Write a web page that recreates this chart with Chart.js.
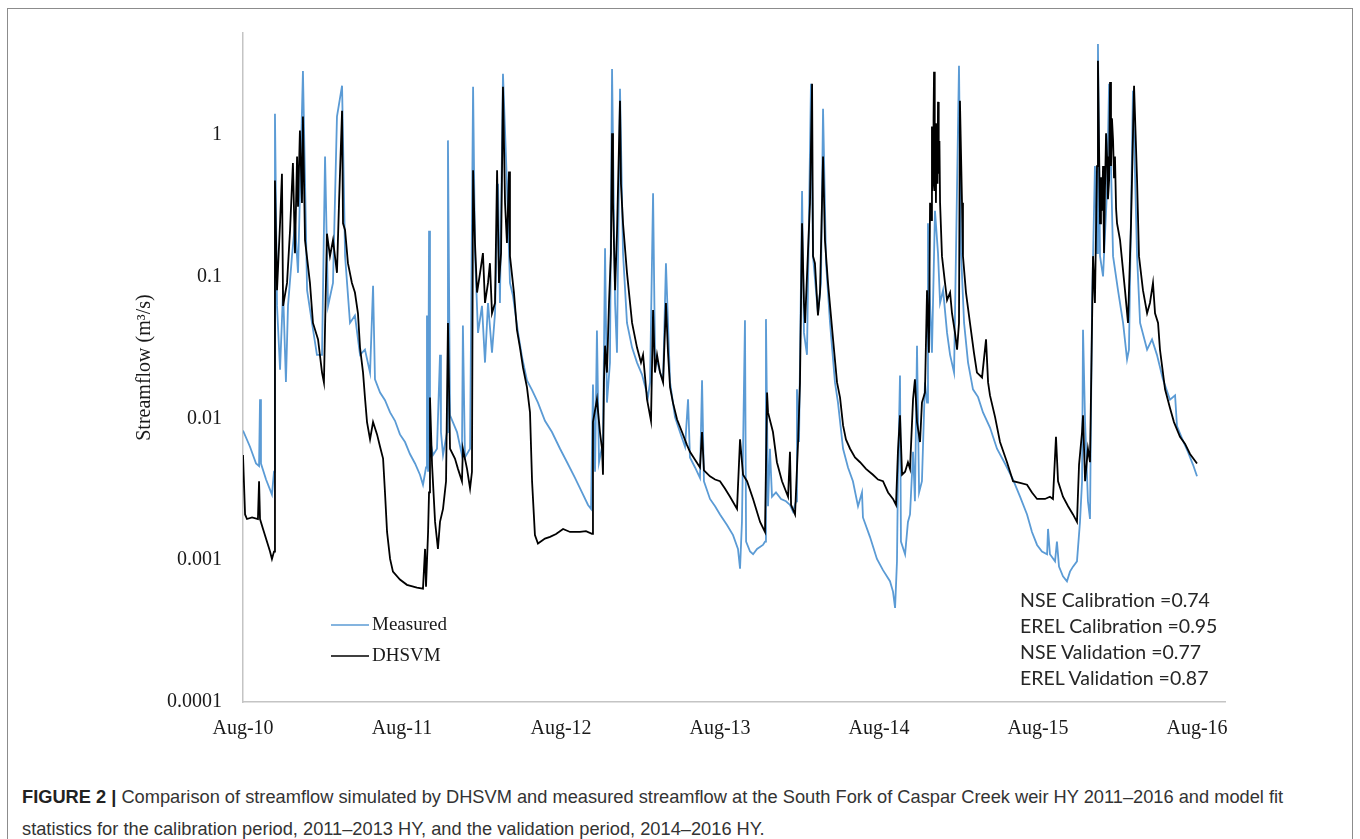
<!DOCTYPE html>
<html>
<head>
<meta charset="utf-8">
<script src="https://cdn.jsdelivr.net/npm/chart.js@4.4.1/dist/chart.umd.min.js"></script>
<style>
  html, body { margin: 0; padding: 0; background: #fff; }
  body { width: 1360px; height: 839px; position: relative; overflow: hidden; }
  #frame { position: absolute; left: 7px; top: 8px; width: 1344px; height: 900px; border: 1px solid #8c8c8c; }
  #chart { position: absolute; left: 0; top: 0; }
  #stats { position: absolute; left: 1020px; top: 587px; font-family: Lato, "Open Sans", sans-serif; font-size: 19.5px; line-height: 26px; color: #262626; white-space: nowrap; }
  #caption { position: absolute; left: 22px; top: 781px; font-family: "Liberation Sans", Arial, sans-serif; font-size: 18.25px; line-height: 32px; color: #333; white-space: nowrap; }
  #caption b { color: #222; }
</style>
</head>
<body>
<div id="frame"></div>
<canvas id="chart" width="1360" height="780"></canvas>
<div id="stats">
  NSE Calibration =0.74<br>
  EREL Calibration =0.95<br>
  NSE Validation =0.77<br>
  EREL Validation =0.87
</div>
<div id="caption">
  <b>FIGURE 2 |</b> Comparison of streamflow simulated by DHSVM and measured streamflow at the South Fork of Caspar Creek weir HY 2011–2016 and model fit<br>
  statistics for the calibration period, 2011–2013 HY, and the validation period, 2014–2016 HY.
</div>
<script>
// time in years after Aug 2010, flow in m3/s
const xTickLabels = ['Aug-10', 'Aug-11', 'Aug-12', 'Aug-13', 'Aug-14', 'Aug-15', 'Aug-16'];
const yTickValues = [0.0001, 0.001, 0.01, 0.1, 1];
const yTickLabels = ['0.0001', '0.001', '0.01', '0.1', '1'];

const measuredYears = [
  0,0.044,0.082,0.101,0.107,0.113,0.145,0.182,0.195,0.201,
  0.214,0.233,0.252,0.270,0.283,0.308,0.327,0.346,0.377,0.403,
  0.434,0.465,0.497,0.516,0.535,0.566,0.591,0.623,0.642,0.673,
  0.704,0.736,0.767,0.799,0.818,0.830,0.862,0.893,0.925,0.956,
  0.987,1.019,1.050,1.082,1.113,1.132,1.151,1.157,1.164,1.170,
  1.176,1.195,1.220,1.239,1.245,1.258,1.283,1.289,1.302,1.346,
  1.377,1.383,1.396,1.428,1.447,1.459,1.478,1.503,1.522,1.541,
  1.566,1.585,1.604,1.616,1.635,1.660,1.679,1.698,1.730,1.755,
  1.786,1.818,1.855,1.899,1.943,1.994,2.038,2.088,2.132,2.170,
  2.189,2.201,2.214,2.226,2.239,2.264,2.277,2.289,2.308,2.321,
  2.340,2.352,2.371,2.390,2.415,2.447,2.478,2.509,2.547,2.560,
  2.579,2.591,2.623,2.642,2.660,2.686,2.717,2.748,2.780,2.799,
  2.811,2.843,2.874,2.887,2.899,2.937,2.969,3.000,3.044,3.082,
  3.113,3.126,3.138,3.157,3.164,3.189,3.208,3.233,3.270,3.283,
  3.289,3.302,3.314,3.327,3.352,3.384,3.415,3.440,3.459,3.478,
  3.484,3.497,3.516,3.528,3.547,3.572,3.585,3.616,3.635,3.648,
  3.667,3.692,3.723,3.742,3.774,3.805,3.836,3.868,3.893,3.899,
  3.943,3.987,4.025,4.069,4.088,4.101,4.113,4.119,4.132,4.138,
  4.164,4.182,4.195,4.214,4.226,4.239,4.252,4.270,4.289,4.302,
  4.308,4.321,4.333,4.352,4.371,4.384,4.403,4.428,4.447,4.472,
  4.503,4.516,4.535,4.560,4.591,4.623,4.654,4.698,4.742,4.792,
  4.843,4.887,4.931,4.962,4.994,5.025,5.057,5.063,5.075,5.107,
  5.119,5.132,5.157,5.182,5.201,5.220,5.245,5.264,5.277,5.283,
  5.296,5.314,5.327,5.340,5.358,5.371,5.377,5.390,5.409,5.434,
  5.447,5.472,5.503,5.535,5.560,5.572,5.597,5.623,5.642,5.686,
  5.717,5.748,5.786,5.830,5.862,5.874,5.906,5.943,5.975,6.000
];
const measuredFlow = [
  0.0082,0.0063,0.0048,0.0046,0.0136,0.0048,0.0037,0.0029,0.0042,1.40,
  0.062,0.022,0.080,0.018,0.062,0.139,0.237,0.106,2.81,0.080,
  0.047,0.028,0.028,0.70,0.062,0.090,1.34,2.21,0.139,0.047,
  0.053,0.028,0.0305,0.021,0.086,0.0188,0.0152,0.0134,0.0110,0.0096,
  0.0077,0.0068,0.0056,0.0048,0.0040,0.0034,0.0045,0.053,0.0042,0.21,
  0.0071,0.0055,0.0061,0.028,0.0080,0.0055,0.0080,0.91,0.0105,0.0080,
  0.0055,0.045,0.0053,0.0061,2.17,0.146,0.040,0.062,0.0247,0.065,
  0.029,0.055,0.45,0.065,2.68,0.45,0.090,0.073,0.040,0.027,
  0.0185,0.0158,0.0129,0.0096,0.0080,0.0061,0.0049,0.0038,0.0030,0.00245,
  0.0023,0.0173,0.0042,0.0415,0.0049,0.0068,0.158,0.0129,0.0247,2.9,
  0.065,0.029,2.10,0.146,0.047,0.0315,0.0247,0.0204,0.0141,0.0179,
  0.385,0.029,0.021,0.0185,0.124,0.0179,0.0102,0.0080,0.0063,0.0136,
  0.0053,0.0045,0.0038,0.0185,0.0036,0.0027,0.0024,0.0021,0.00177,0.0015,
  0.0012,0.00087,0.00186,0.049,0.00135,0.00115,0.0011,0.0012,0.00128,0.00135,
  0.050,0.0024,0.0061,0.0028,0.0030,0.0027,0.0026,0.00245,0.0022,0.0026,
  0.016,0.0068,0.40,0.040,0.028,2.28,0.139,0.055,0.090,1.52,
  0.124,0.047,0.0179,0.0129,0.0061,0.0045,0.0036,0.0024,0.0030,0.0020,
  0.00146,0.00102,0.00085,0.00071,0.0006,0.00046,0.00098,0.0037,0.020,0.00135,
  0.0011,0.00186,0.0021,0.0058,0.0026,0.0325,0.0030,0.0036,0.0179,0.0129,
  0.237,0.065,0.029,0.29,0.146,0.065,0.080,0.040,0.028,0.021,
  3.05,0.146,0.047,0.0247,0.016,0.0141,0.0110,0.0086,0.0061,0.0048,
  0.0037,0.0028,0.0021,0.00158,0.00128,0.00115,0.0011,0.00166,0.0011,0.00098,
  0.00135,0.0009,0.00077,0.00071,0.00083,0.0009,0.00098,0.00186,0.0036,0.042,
  0.0094,0.0026,0.00195,0.065,0.60,0.146,4.35,0.139,0.10,0.40,
  2.28,0.139,0.080,0.047,0.026,0.0305,2.04,0.139,0.047,0.0305,
  0.036,0.028,0.0188,0.0135,0.0145,0.0088,0.0072,0.0058,0.0047,0.0039
];

const dhsvmYears = [
  0,0.013,0.025,0.057,0.094,0.101,0.107,0.126,0.151,0.170,
  0.182,0.195,0.201,0.214,0.233,0.245,0.252,0.277,0.296,0.314,
  0.327,0.340,0.346,0.358,0.371,0.377,0.390,0.421,0.440,0.472,
  0.497,0.509,0.528,0.547,0.566,0.591,0.604,0.623,0.629,0.642,
  0.660,0.685,0.704,0.723,0.736,0.755,0.767,0.780,0.799,0.818,
  0.843,0.862,0.881,0.893,0.906,0.925,0.943,0.987,1.031,1.094,
  1.132,1.145,1.151,1.164,1.170,1.176,1.189,1.208,1.226,1.239,
  1.258,1.277,1.289,1.302,1.333,1.352,1.377,1.383,1.409,1.428,
  1.440,1.447,1.459,1.472,1.491,1.509,1.522,1.541,1.553,1.566,
  1.585,1.598,1.610,1.623,1.635,1.648,1.660,1.673,1.679,1.704,
  1.723,1.742,1.761,1.786,1.805,1.818,1.836,1.855,1.899,1.931,
  1.969,2.013,2.057,2.119,2.157,2.195,2.201,2.226,2.245,2.258,
  2.264,2.270,2.277,2.289,2.302,2.314,2.321,2.327,2.340,2.352,
  2.371,2.377,2.390,2.415,2.447,2.478,2.503,2.516,2.541,2.566,
  2.579,2.591,2.604,2.623,2.642,2.660,2.673,2.686,2.704,2.730,
  2.761,2.792,2.811,2.843,2.874,2.887,2.899,2.937,2.969,3.000,
  3.031,3.063,3.107,3.126,3.145,3.170,3.208,3.252,3.283,3.296,
  3.302,3.333,3.358,3.390,3.428,3.440,3.447,3.472,3.491,3.503,
  3.516,3.528,3.535,3.553,3.566,3.579,3.585,3.597,3.616,3.629,
  3.648,3.660,3.679,3.711,3.736,3.755,3.774,3.792,3.818,3.849,
  3.881,3.918,3.962,3.994,4.025,4.057,4.088,4.107,4.119,4.132,
  4.145,4.164,4.182,4.195,4.214,4.226,4.239,4.258,4.270,4.289,
  4.302,4.314,4.321,4.327,4.333,4.336,4.340,4.343,4.346,4.349,4.352,4.355,4.358,4.361,4.365,4.368,4.371,4.374,
  4.377,4.380,4.384,4.396,4.415,4.428,4.447,4.459,4.478,4.491,4.503,
  4.509,4.522,4.528,4.547,4.572,4.597,4.616,4.648,4.673,4.686,
  4.698,4.730,4.761,4.805,4.843,4.887,4.931,4.962,4.994,5.044,
  5.075,5.094,5.113,5.126,5.157,5.189,5.220,5.245,5.258,5.277,
  5.283,5.296,5.314,5.327,5.346,5.358,5.371,5.377,5.384,5.390,5.396,5.403,5.409,
  5.415,5.421,5.428,5.434,5.440,5.447,5.453,5.459,5.465,5.472,5.478,5.484,5.491,5.497,5.516,5.547,5.566,5.585,
  5.604,5.623,5.635,5.660,5.686,5.704,5.723,5.736,5.755,5.767,
  5.799,5.830,5.855,5.893,5.925,5.956,6.000
];
const dhsvmFlow = [
  0.0055,0.0021,0.00195,0.0020,0.00195,0.0036,0.00195,0.00166,0.00135,0.00115,
  0.00102,0.00115,0.475,0.080,0.237,0.53,0.062,0.090,0.212,0.63,
  0.146,0.70,0.31,1.07,0.33,1.34,0.18,0.090,0.047,0.036,
  0.021,0.0179,0.20,0.139,0.18,0.106,0.33,1.47,0.237,0.212,
  0.124,0.090,0.077,0.055,0.0315,0.021,0.014,0.0094,0.0071,0.0094,
  0.0077,0.0063,0.0052,0.0030,0.00158,0.00102,0.00083,0.00073,0.00067,0.00064,
  0.00063,0.0012,0.00065,0.00158,0.0030,0.014,0.0047,0.00186,0.0012,0.00186,
  0.0023,0.0036,0.047,0.0061,0.0052,0.0044,0.0036,0.0061,0.0044,0.0032,
  0.0042,0.56,0.172,0.077,0.106,0.146,0.065,0.090,0.124,0.055,
  0.065,0.56,0.090,0.146,2.17,0.33,0.172,0.55,0.139,0.077,
  0.042,0.0315,0.0228,0.0165,0.0110,0.0036,0.0015,0.00131,0.00142,0.00146,
  0.00153,0.00166,0.00158,0.00158,0.0016,0.00153,0.0094,0.0136,0.0080,0.0061,
  0.0040,0.0179,0.0325,0.021,0.065,0.146,1.02,0.33,0.080,0.20,
  1.73,0.45,0.237,0.106,0.047,0.0315,0.0247,0.028,0.0136,0.0096,
  0.058,0.021,0.028,0.021,0.0179,0.065,0.029,0.0165,0.0129,0.0098,
  0.0080,0.0065,0.0058,0.0051,0.0045,0.0080,0.0043,0.0039,0.0037,0.0036,
  0.0032,0.0028,0.0023,0.0071,0.0040,0.0036,0.0027,0.00186,0.00158,0.0152,
  0.0110,0.0080,0.0049,0.0036,0.0028,0.0058,0.00245,0.0021,0.0068,0.0179,
  0.237,0.065,0.047,0.146,0.33,2.28,0.139,0.124,0.053,0.077,
  0.70,0.18,0.090,0.036,0.0179,0.014,0.0089,0.0071,0.0061,0.0053,
  0.0049,0.0044,0.0040,0.0037,0.0036,0.0030,0.0027,0.00245,0.0058,0.0105,
  0.0040,0.0042,0.0049,0.0044,0.0136,0.0188,0.0094,0.0068,0.0129,0.0152,
  0.080,0.029,0.33,0.25,1.14,0.40,0.45,1.30,2.77,0.40,0.735,1.20,0.33,1.00,1.19,0.45,1.70,0.60,
  0.53,0.90,0.33,0.139,0.090,0.068,0.077,0.055,0.040,0.0305,0.047,
  1.73,0.33,0.139,0.077,0.047,0.029,0.021,0.0194,0.036,0.0179,
  0.0145,0.0102,0.0068,0.0049,0.0036,0.0035,0.0034,0.0030,0.0027,0.0027,
  0.0028,0.0027,0.0074,0.0036,0.0028,0.0024,0.0021,0.00186,0.0047,0.0080,
  0.0105,0.0036,0.0061,0.0049,0.139,0.065,0.60,3.31,0.80,0.237,0.50,0.29,0.60,
  0.146,0.40,1.02,0.70,0.35,0.475,2.35,0.60,1.30,0.91,0.50,0.70,0.30,0.237,0.18,0.080,0.047,0.237,
  2.21,0.475,0.139,0.080,0.055,0.065,0.090,0.055,0.047,0.0305,
  0.016,0.0118,0.0094,0.0074,0.0066,0.0056,0.0048
];

const toPoints = (xs, ys) => xs.map((x, i) => ({ x, y: ys[i] }));
const serif = '"Liberation Serif", "Times New Roman", serif';

// legend drawn inside the plot, bottom left, like the original
const insideLegend = {
  id: 'insideLegend',
  afterDraw(chart) {
    const ctx = chart.ctx;
    ctx.save();
    ctx.font = '19px ' + serif;
    ctx.textBaseline = 'middle';
    chart.data.datasets.forEach((ds, i) => {
      const y = 625 + i * 31;
      ctx.strokeStyle = ds.borderColor;
      ctx.lineWidth = 1.5;
      ctx.beginPath();
      ctx.moveTo(331, y);
      ctx.lineTo(369, y);
      ctx.stroke();
      ctx.fillStyle = '#1a1a1a';
      ctx.fillText(ds.label, 372, y);
    });
    ctx.restore();
  }
};

const config = {
  type: 'line',
  data: {
    datasets: [
      {
        label: 'Measured',
        data: toPoints(measuredYears, measuredFlow),
        borderColor: '#5b9bd5',
        borderWidth: 1.8,
        pointRadius: 0,
        tension: 0,
        order: 2,
      },
      {
        label: 'DHSVM',
        data: toPoints(dhsvmYears, dhsvmFlow),
        borderColor: '#000000',
        borderWidth: 1.8,
        pointRadius: 0,
        tension: 0,
        order: 1,
      },
    ],
  },
  options: {
    responsive: false,
    animation: false,
    layout: { padding: { top: 30, right: 135, bottom: 18, left: 0 } },
    plugins: { legend: { display: false }, tooltip: { enabled: false } },
    scales: {
      x: {
        type: 'linear',
        min: 0,
        max: 6.176,
        grid: { display: false, drawTicks: false },
        border: { display: true, color: '#c4c4c4', width: 1.5 },
        afterBuildTicks: s => { s.ticks = xTickLabels.map((_, i) => ({ value: i })); },
        afterFit: s => { s.height = 60; },
        ticks: {
          padding: 15,
          maxRotation: 0,
          autoSkip: false,
          color: '#1a1a1a',
          font: { family: serif, size: 20 },
          callback: (v, i) => xTickLabels[i],
        },
      },
      y: {
        type: 'logarithmic',
        min: 0.0001,
        max: 5.2,
        grid: { display: false, drawTicks: false },
        border: { display: true, color: '#c4c4c4', width: 1.5 },
        afterBuildTicks: s => { s.ticks = yTickValues.map(v => ({ value: v })); },
        afterFit: s => { s.width = 243; },
        ticks: {
          padding: 21,
          autoSkip: false,
          color: '#1a1a1a',
          font: { family: serif, size: 20 },
          callback: (v, i) => yTickLabels[i],
        },
        title: {
          display: true,
          text: 'Streamflow (m³/s)',
          color: '#1a1a1a',
          font: { family: serif, size: 20 },
          padding: { top: 133, bottom: 0 },
        },
      },
    },
  },
  plugins: [insideLegend],
};

const ctx = document.getElementById('chart').getContext('2d');
const myChart = new Chart(ctx, config);
</script>
</body>
</html>
